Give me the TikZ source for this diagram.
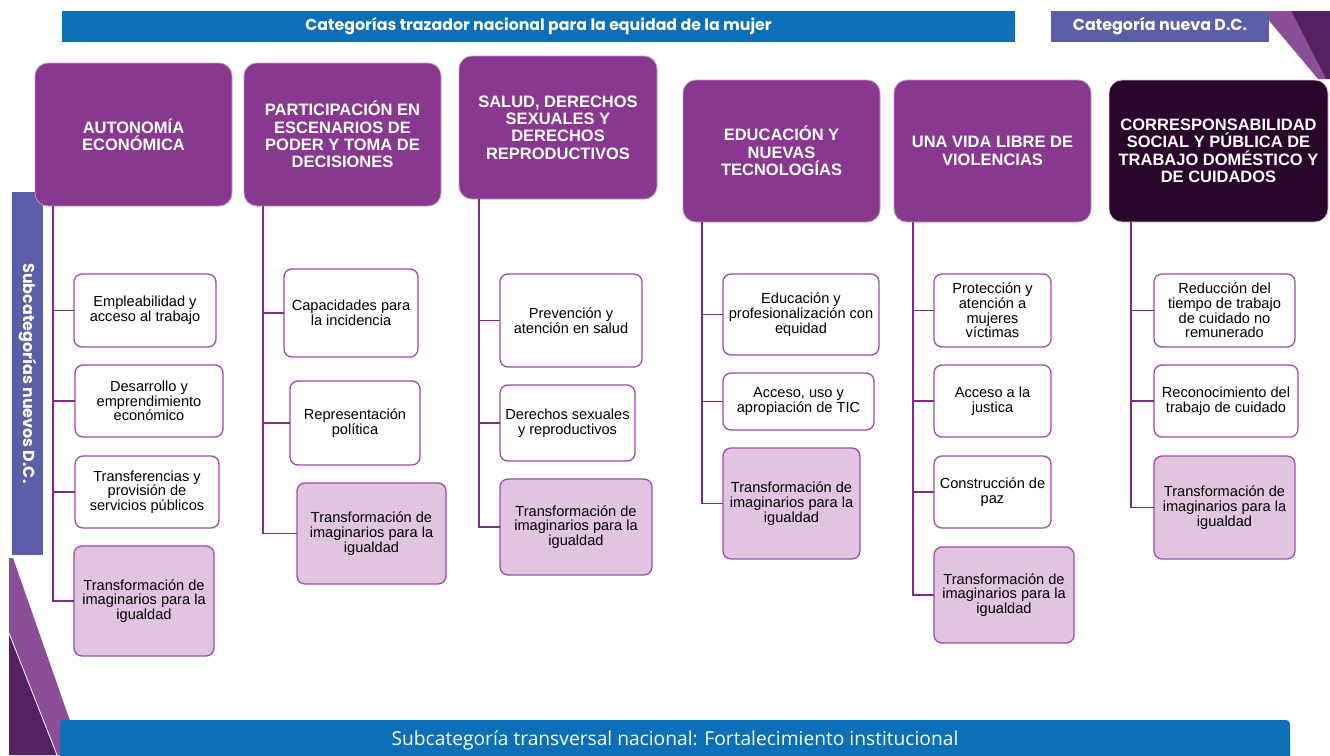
\documentclass[tikz,border=0pt]{standalone}
\usepackage{fontspec}
\setmainfont{Liberation Sans}
\newfontfamily\headfont{Poppins}
\newfontfamily\barfont{Open Sans}
\definecolor{barblue}{HTML}{0B70B8}
\definecolor{slate}{HTML}{5B5FA8}
\definecolor{catpurple}{HTML}{88388F}
\definecolor{catdark}{HTML}{2B062C}
\definecolor{pinkfill}{HTML}{E1C4E0}
\definecolor{subborder}{HTML}{9C4CA8}
\definecolor{connline}{HTML}{7D2B87}
\definecolor{declight}{HTML}{8B4F98}
\definecolor{decdark}{HTML}{56215F}
\begin{document}
\begin{tikzpicture}[x=1pt,y=-1pt,
  cat/.style={fill=catpurple,draw=catpurple!55!white,line width=0.8pt,rounded corners=13pt,
    text=white,align=center,inner sep=0pt,outer sep=0pt,
    font={\fontsize{16.5}{17.4}\selectfont\bfseries}},
  catblack/.style={cat,fill=catdark,draw=black!20},
  sub/.style={fill=white,draw=subborder,line width=1.3pt,rounded corners=8pt,
    text=black,align=center,inner sep=0pt,outer sep=0pt,
    font={\fontsize{14.6}{14.7}\selectfont}},
  subpink/.style={sub,fill=pinkfill},
  conn/.style={draw=connline,line width=1.8pt},
  hbar/.style={inner sep=0pt,outer sep=0pt,text=white}
]
\useasboundingbox (0,0) rectangle (1330,755);
% decorations
\fill[declight] (1261,11) -- (1291,11) -- (1326,79) -- (1318,79) -- cycle;
\fill[decdark] (1291,11) -- (1330,11) -- (1330,79) -- (1326,79) -- cycle;
\fill[declight] (9,558) -- (13,558) -- (82,755) -- (9,755) -- cycle;
\fill[decdark] (9,633) -- (57,755) -- (9,755) -- cycle;
\draw[white,line width=0.8pt] (9,633) -- (57,755);

% header bars
\node[hbar,fill=barblue,minimum width=953,minimum height=31,
  font={\headfont\fontsize{15.8}{16}\selectfont\bfseries}] (top) at (538.5,26.5)
  {Categorías trazador nacional para la equidad de la mujer};
\node[hbar,fill=slate,minimum width=218,minimum height=31,
  font={\headfont\fontsize{15.9}{16}\selectfont\bfseries}] (new) at (1160,26.5)
  {Categoría nueva D.C.};
\node[hbar,fill=slate,minimum width=363,minimum height=31,rotate=-90,
  font={\headfont\fontsize{15.9}{16}\selectfont\bfseries}] (side) at (27.5,373.5)
  {Subcategorías nuevos D.C.};
\node[hbar,fill=barblue,rounded corners=4pt,minimum width=1230,minimum height=40,
  font={\barfont\fontsize{19.2}{20}\selectfont}] (bottom) at (675,740)
  {Subcategoría transversal nacional: Fortalecimiento institucional};

% category boxes
\node[cat,minimum width=197,minimum height=143] (c1) at (133.5,134.5) {AUTONOMÍA\\ECONÓMICA};
\node[cat,minimum width=197,minimum height=143] (c2) at (342.5,134.5) {PARTICIPACIÓN EN\\ESCENARIOS DE\\PODER Y TOMA DE\\DECISIONES};
\node[cat,minimum width=198,minimum height=143] (c3) at (558,127.5) {SALUD, DERECHOS\\SEXUALES Y\\DERECHOS\\REPRODUCTIVOS};
\node[cat,minimum width=197,minimum height=142] (c4) at (781.5,151) {EDUCACIÓN Y\\NUEVAS\\TECNOLOGÍAS};
\node[cat,minimum width=197,minimum height=142] (c5) at (992.5,151) {UNA VIDA LIBRE DE\\VIOLENCIAS};
\node[catblack,minimum width=219,minimum height=142] (c6) at (1218.5,151) {CORRESPONSABILIDAD\\SOCIAL Y PÚBLICA DE\\TRABAJO DOMÉSTICO Y\\DE CUIDADOS};

% column 1
\node[sub,minimum width=142,minimum height=73] (s11) at (145,310.5) {Empleabilidad y\\acceso al trabajo};
\node[sub,minimum width=148,minimum height=72] (s12) at (149,401) {Desarrollo y\\emprendimiento\\económico};
\node[sub,minimum width=144,minimum height=72] (s13) at (147,492) {Transferencias y\\provisión de\\servicios públicos};
\node[subpink,minimum width=140,minimum height=110] (s14) at (144,601) {Transformación de\\imaginarios para la\\igualdad};
% column 2
\node[sub,minimum width=134,minimum height=88] (s21) at (351,313) {Capacidades para\\la incidencia};
\node[sub,minimum width=130,minimum height=84] (s22) at (355,423) {Representación\\política};
\node[subpink,minimum width=149,minimum height=101] (s23) at (371.5,533.5) {Transformación de\\imaginarios para la\\igualdad};
% column 3
\node[sub,minimum width=142,minimum height=93] (s31) at (571,320.5) {Prevención y\\atención en salud};
\node[sub,minimum width=135,minimum height=76] (s32) at (567.5,423) {Derechos sexuales\\y reproductivos};
\node[subpink,minimum width=152,minimum height=96] (s33) at (576,527) {Transformación de\\imaginarios para la\\igualdad};
% column 4
\node[sub,minimum width=156,minimum height=81] (s41) at (801,314.5) {Educación y\\profesionalización con\\equidad};
\node[sub,minimum width=151,minimum height=57] (s42) at (798.5,401.5) {Acceso, uso y\\apropiación de TIC};
\node[subpink,minimum width=137,minimum height=111] (s43) at (791.5,503.5) {Transformación de\\imaginarios para la\\igualdad};
% column 5
\node[sub,minimum width=117,minimum height=73] (s51) at (992.5,310.5) {Protección y\\atención a\\mujeres\\víctimas};
\node[sub,minimum width=117,minimum height=72] (s52) at (992.5,401) {Acceso a la\\justica};
\node[sub,minimum width=117,minimum height=72] (s53) at (992.5,492) {Construcción de\\paz};
\node[subpink,minimum width=140,minimum height=96] (s54) at (1004,595) {Transformación de\\imaginarios para la\\igualdad};
% column 6
\node[sub,minimum width=141,minimum height=73] (s61) at (1224.5,310.5) {Reducción del\\tiempo de trabajo\\de cuidado no\\remunerado};
\node[sub,minimum width=144,minimum height=72] (s62) at (1226,401) {Reconocimiento del\\trabajo de cuidado};
\node[subpink,minimum width=141,minimum height=103] (s63) at (1224.5,507.5) {Transformación de\\imaginarios para la\\igualdad};

% connectors
\foreach \s in {s11,s12,s13,s14} \draw[conn] ([xshift=18pt]c1.south west) |- (\s.west);
\foreach \s in {s21,s22,s23} \draw[conn] ([xshift=19pt]c2.south west) |- (\s.west);
\foreach \s in {s31,s32,s33} \draw[conn] ([xshift=20pt]c3.south west) |- (\s.west);
\foreach \s in {s41,s42,s43} \draw[conn] ([xshift=19pt]c4.south west) |- (\s.west);
\foreach \s in {s51,s52,s53,s54} \draw[conn] ([xshift=19pt]c5.south west) |- (\s.west);
\foreach \s in {s61,s62,s63} \draw[conn] ([xshift=22pt]c6.south west) |- (\s.west);
\end{tikzpicture}
\end{document}
